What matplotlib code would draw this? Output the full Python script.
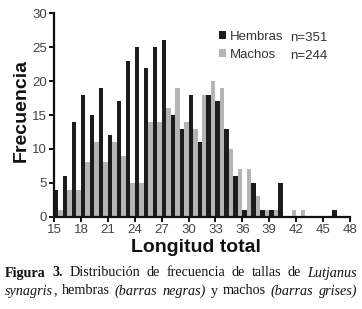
import matplotlib
matplotlib.use("Agg")
import matplotlib.pyplot as plt
import numpy as np

# ---------------- data ----------------
lengths = list(range(15, 48))
hembras = [4, 6, 14, 18, 15, 19, 12, 17, 23, 25, 22, 25, 26, 15, 13, 18, 11,
           18, 17, 13, 6, 1, 5, 1, 1, 5, 0, 0, 0, 0, 0, 1, 0]
machos = [1, 4, 4, 8, 11, 8, 11, 9, 5, 5, 14, 14, 16, 19, 14, 13, 18,
          20, 19, 10, 7, 7, 3, 1, 1, 0, 1, 1, 0, 0, 0, 0, 0]
series_labels = ["Hembras", "Machos"]
series_n = ["n=351", "n=244"]
x_ticks = list(range(15, 49, 3))
y_ticks = list(range(0, 31, 5))
xlabel = "Longitud total"
ylabel = "Frecuencia"

caption_lines = [
    [[("Figura", "bold")], [("3.", "bold")], [("Distribución", "normal")],
     [("de", "normal")], [("frecuencia", "normal")], [("de", "normal")],
     [("tallas", "normal")], [("de", "normal")], [("Lutjanus", "italic")]],
    [[("synagris", "italic"), (",", "normal")], [("hembras", "normal")],
     [("(barras", "italic")], [("negras)", "italic")], [("y", "normal")],
     [("machos", "normal")], [("(barras", "italic")], [("grises)", "italic")]],
]

# ---------------- figure ----------------
W, H = 362, 309
fig = plt.figure(figsize=(W / 100, H / 100), dpi=100)
fig.patch.set_facecolor("white")

x0, x1 = 54, 350
yb, yt = 216.7, 13.3
ax = fig.add_axes([x0 / W, 1 - yb / H, (x1 - x0) / W, (yb - yt) / H])

black = "#1c1c1c"
grey = "#b4b4b4"
x = np.array(lengths, dtype=float)
b1 = ax.bar(x, hembras, width=0.5, align="edge", color=black, linewidth=0)
b2 = ax.bar(x + 0.5, machos, width=0.5, align="edge", color=grey, linewidth=0)

ax.set_xlim(15, 48)
ax.set_ylim(0, 30)
ax.set_xticks(x_ticks)
ax.set_yticks(y_ticks)
for s in ["top", "right"]:
    ax.spines[s].set_visible(False)
for s in ["left", "bottom"]:
    ax.spines[s].set_linewidth(1.6)
    ax.spines[s].set_color("#111111")
sans = "Liberation Sans"
ax.tick_params(axis="both", direction="out", length=3.5, width=1.4,
               color="#111111", labelsize=9.5, labelcolor="#444444", pad=1.5)
for lab in ax.get_xticklabels() + ax.get_yticklabels():
    lab.set_fontfamily(sans)

ax.set_xlabel(xlabel, fontsize=14, fontweight="bold", family=sans, color="#111111")
ax.xaxis.set_label_coords((196 - x0) / (x1 - x0), (yb - 247) / (yb - yt))
ax.set_ylabel(ylabel, fontsize=14, fontweight="bold", family=sans, color="#111111")
ax.yaxis.set_label_coords((21 - x0) / (x1 - x0), (yb - 111) / (yb - yt))
ax.xaxis.label.set_verticalalignment("center")
ax.yaxis.label.set_verticalalignment("center")

# legend
leg = ax.legend([b1, b2], series_labels, loc="upper left", frameon=False,
                bbox_to_anchor=((219 - x0) / (x1 - x0), (yb - 31) / (yb - yt)),
                prop={"family": sans, "size": 9.5}, handlelength=0.55,
                handleheight=0.55, handletextpad=0.3, labelspacing=0.45,
                borderaxespad=0, borderpad=0)
for t in leg.get_texts():
    t.set_color("#333333")
for i, nt in enumerate(series_n):
    ax.text((290 - x0) / (x1 - x0), (yb - (38 + 18 * i)) / (yb - yt), nt,
            transform=ax.transAxes, family=sans, fontsize=9.5, color="#333333",
            va="center", ha="left")

# caption (justified)
serif = "Liberation Serif"
cap_fs = 10.2
renderer = fig.canvas.get_renderer()
line_y = [273, 291]
left, right = 5, 357
styles = {"bold": dict(fontweight="bold"), "normal": dict(),
          "italic": dict(style="italic")}
for li, words in enumerate(caption_lines):
    objs = []
    widths = []
    for w in words:
        pieces = []
        wsum = 0
        for txt, st in w:
            t = fig.text(0, 0, txt, family=serif, fontsize=cap_fs, color="#111111",
                         va="center", ha="left", transform=None, **styles[st])
            bb = t.get_window_extent(renderer)
            pieces.append((t, bb.width))
            wsum += bb.width
        objs.append(pieces)
        widths.append(wsum)
    gap = (right - left - sum(widths)) / (len(words) - 1)
    cx = left
    for pieces, wsum in zip(objs, widths):
        px = cx
        for t, pw in pieces:
            t.set_position((px, H - line_y[li]))
            px += pw
        cx += wsum + gap

fig.savefig("out.png", dpi=100, facecolor="white")
